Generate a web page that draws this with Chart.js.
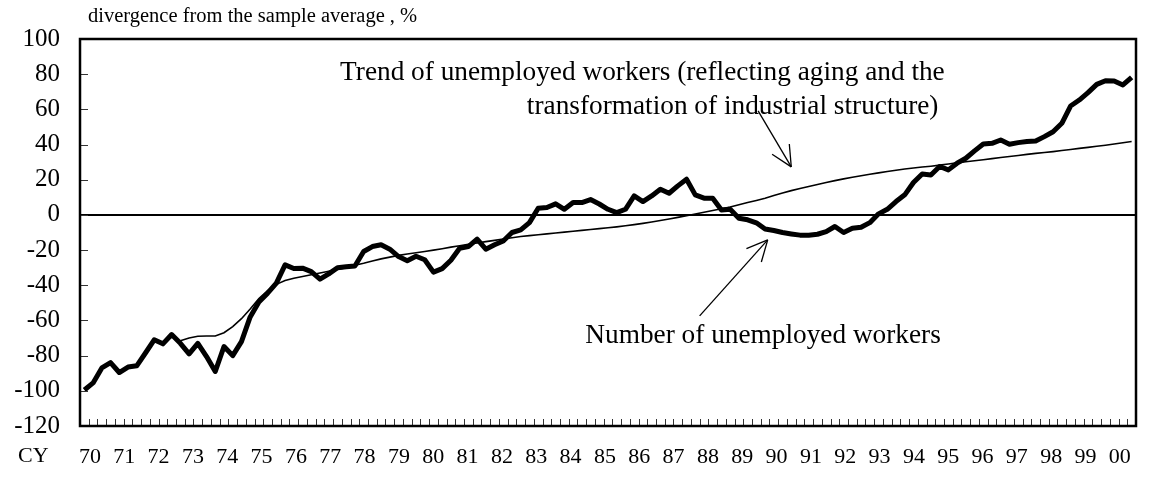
<!DOCTYPE html>
<html>
<head>
<meta charset="utf-8">
<title>Unemployed workers</title>
<script src="https://cdn.jsdelivr.net/npm/chart.js@4/dist/chart.umd.min.js"></script>
<style>
    body { margin: 0; background: #fff; }
    #wrap { width: 1154px; height: 481px; position: relative; }
</style>
</head>
<body>
<div id="wrap"><canvas id="unempChart"></canvas></div>
<script>
// calendar years shown under the x axis
const yearLabels = ['70','71','72','73','74','75','76','77','78','79','80','81','82','83','84',
    '85','86','87','88','89','90','91','92','93','94','95','96','97','98','99','00'];
const firstYear = 1970;

// 1970Q1 .. 2000Q1
const quarters = [];
yearLabels.forEach(function(y) {
    for (let q = 1; q <= 4; q++) quarters.push(y + 'Q' + q);
});
quarters.length = 121;

// number of unemployed workers, divergence from sample average (%)
const unemployed = [
    -99.5, -95.5, -87, -84, -89.6, -86.5, -85.8, -78.5, -71, -73.3,
    -68, -73, -79, -73, -80.5, -89, -74.8, -80, -72, -58,
    -49.5, -44.5, -38.8, -28.4, -30.5, -30.3, -32.2, -36.5, -33.5, -30,
    -29.5, -29, -20.8, -18, -17, -19.5, -23.7, -26, -23.5, -25.5,
    -32.5, -30.5, -25.8, -19, -18, -13.8, -19.5, -17, -14.8, -10,
    -8.5, -4.4, 3.8, 4.2, 6.3, 3.2, 7, 7, 8.7, 6.2,
    3.2, 1.3, 3.2, 10.8, 7.6, 10.8, 14.6, 12.3, 16.5, 20.3,
    11.4, 9.5, 9.5, 2.8, 3.2, -1.9, -2.8, -4.5, -8, -8.9,
    -10, -10.8, -11.5, -11.5, -11, -9.5, -6.6, -10, -7.6, -7,
    -4.4, 0.6, 3.2, 7.6, 11.4, 18.4, 23.3, 22.7, 27.5, 25.6,
    29.4, 32.2, 36.4, 40.3, 40.7, 42.6, 40.2, 41.1, 41.7, 42,
    44.5, 47.3, 52.1, 61.9, 65.3, 69.5, 74.2, 76.3, 76.1, 73.9,
    78.2
];

// trend of unemployed workers (starts 1972Q4)
const trend = [
    null, null, null, null, null, null, null, null, null, null,
    null, -71.5, -70, -69, -68.8, -68.8, -67, -63.5, -59, -53.5,
    -47.5, -43, -39.5, -37.3, -36, -35, -34, -33, -32, -31,
    -30, -28.6, -27.5, -26.2, -25, -24, -23, -22.2, -21.5, -20.8,
    -20, -19.2, -18.3, -17.5, -16.7, -16, -15.2, -14.5, -13.7, -13,
    -12.3, -11.8, -11.3, -10.8, -10.3, -9.8, -9.3, -8.8, -8.3, -7.8,
    -7.3, -6.8, -6.2, -5.5, -4.8, -4, -3.2, -2.3, -1.4, -0.5,
    0.5, 1.5, 2.5, 3.5, 4.5, 5.8, 7, 8.2, 9.5, 11,
    12.4, 13.8, 15, 16.2, 17.3, 18.4, 19.5, 20.5, 21.4, 22.3,
    23.1, 23.9, 24.7, 25.4, 26.1, 26.7, 27.2, 27.7, 28.3, 28.9,
    29.6, 30.2, 30.8, 31.4, 32, 32.6, 33.2, 33.8, 34.4, 35,
    35.5, 36, 36.6, 37.2, 37.8, 38.4, 39, 39.6, 40.3, 41,
    41.7
];

// y axis range and step
const yMin = -120;
const yMax = 100;
const yStep = 20;

// the year row is typed text in the original, spread a little tighter than the quarters
const yearAxisMin = 1969.71;
const yearAxisMax = 2000.47;

const FONT = '"Liberation Serif", "Times New Roman", serif';

// labels and arrows, placed in data coordinates (quarter index, value)
const notes = [
    { text: 'Trend of unemployed workers (reflecting aging and the', x: 29.3, y: 80.5 },
    { text: 'transformation of industrial structure)', x: 50.7, y: 61.4 },
    { text: 'Number of unemployed workers', x: 57.4, y: -69 }
];
const arrows = [
    { from: [77.2, 59.1], to: [81.0, 27.3] },
    { from: [70.5, -57.4], to: [78.3, -14.2] }
];

document.addEventListener('DOMContentLoaded', function() {

    function line(ctx, x1, y1, x2, y2) {
        ctx.beginPath();
        ctx.moveTo(x1, y1);
        ctx.lineTo(x2, y2);
        ctx.stroke();
    }

    // frame, inward tick marks, text notes and arrows
    const decorations = {
        id: 'decorations',
        afterDatasetsDraw: function(chart) {
            const ctx = chart.ctx;
            const a = chart.chartArea;
            const xs = chart.scales.x;
            const ys = chart.scales.y;
            ctx.save();

            // small ticks between quarters
            ctx.lineWidth = 1;
            ctx.strokeStyle = '#333';
            for (let i = 1; i < quarters.length; i++) {
                const px = Math.round((xs.getPixelForValue(i - 1) + xs.getPixelForValue(i)) / 2) + 0.5;
                line(ctx, px, a.bottom, px, a.bottom - 7);
            }
            ys.ticks.forEach(function(t) {
                const py = Math.round(ys.getPixelForValue(t.value)) + 0.5;
                line(ctx, a.left, py, a.left + 8, py);
            });

            // frame
            ctx.strokeStyle = '#000';
            ctx.lineWidth = 2.5;
            ctx.strokeRect(a.left, a.top, a.right - a.left, a.bottom - a.top);

            // notes
            ctx.fillStyle = '#000';
            ctx.font = '27.3px ' + FONT;
            ctx.textAlign = 'left';
            ctx.textBaseline = 'middle';
            notes.forEach(function(n) {
                ctx.fillText(n.text, xs.getPixelForValue(n.x), ys.getPixelForValue(n.y));
            });

            // arrows
            ctx.lineWidth = 1.3;
            arrows.forEach(function(ar) {
                const x1 = xs.getPixelForValue(ar.from[0]), y1 = ys.getPixelForValue(ar.from[1]);
                const x2 = xs.getPixelForValue(ar.to[0]), y2 = ys.getPixelForValue(ar.to[1]);
                line(ctx, x1, y1, x2, y2);
                const ang = Math.atan2(y2 - y1, x2 - x1);
                const len = 23, spread = 0.45;
                line(ctx, x2, y2, x2 - len * Math.cos(ang - spread), y2 - len * Math.sin(ang - spread));
                line(ctx, x2, y2, x2 - len * Math.cos(ang + spread), y2 - len * Math.sin(ang + spread));
            });

            // axis title and CY marker
            ctx.font = '20.5px ' + FONT;
            ctx.fillText('divergence from the sample average , %', a.left + 8, 17);
            ctx.font = '22px ' + FONT;
            ctx.fillText('CY', 18, a.bottom + 30);
            ctx.restore();
        }
    };

    const canvas = document.getElementById('unempChart');
    new Chart(canvas, {
        type: 'line',
        data: {
            labels: quarters,
            datasets: [{
                label: 'Number of unemployed workers',
                data: unemployed,
                borderColor: '#000',
                borderWidth: 5,
                borderJoinStyle: 'round',
                pointRadius: 0,
                tension: 0,
                order: 2
            }, {
                label: 'Trend of unemployed workers',
                data: trend,
                borderColor: '#000',
                borderWidth: 1.6,
                pointRadius: 0,
                tension: 0,
                order: 1
            }]
        },
        options: {
            responsive: true,
            maintainAspectRatio: false,
            animation: false,
            layout: { padding: { top: 39, right: 18, left: 0, bottom: 0 } },
            plugins: {
                legend: { display: false },
                tooltip: { enabled: false }
            },
            scales: {
                x: {
                    type: 'category',
                    display: false,
                    offset: true,
                    grid: { offset: true }
                },
                year: {
                    type: 'linear',
                    axis: 'x',
                    position: 'bottom',
                    min: yearAxisMin,
                    max: yearAxisMax,
                    grid: { display: false },
                    border: { display: false },
                    afterBuildTicks: function(scale) {
                        scale.ticks = yearLabels.map(function(l, k) { return { value: firstYear + k }; });
                    },
                    afterFit: function(scale) {
                        scale.height = 55;
                        scale.paddingLeft = 0;
                        scale.paddingRight = 0;
                    },
                    ticks: {
                        autoSkip: false,
                        maxRotation: 0,
                        minRotation: 0,
                        padding: 10,
                        color: '#000',
                        font: { family: FONT, size: 22 },
                        callback: function(value) {
                            return yearLabels[Math.round(value) - firstYear];
                        }
                    }
                },
                y: {
                    min: yMin,
                    max: yMax,
                    afterFit: function(scale) { scale.width = 80; },
                    border: { display: false },
                    grid: {
                        drawTicks: false,
                        color: function(c) { return c.tick && c.tick.value === 0 ? '#000' : 'rgba(0,0,0,0)'; },
                        lineWidth: function(c) { return c.tick && c.tick.value === 0 ? 2 : 0; }
                    },
                    ticks: {
                        stepSize: yStep,
                        padding: 20,
                        color: '#000',
                        font: { family: FONT, size: 25 }
                    }
                }
            }
        },
        plugins: [decorations]
    });
});
</script>
</body>
</html>
